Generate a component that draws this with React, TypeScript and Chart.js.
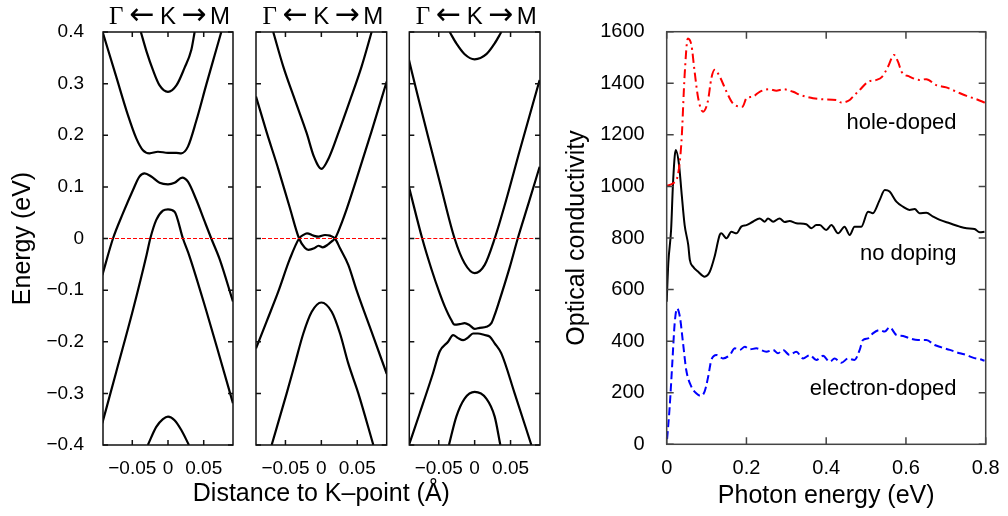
import React, { useEffect, useRef } from 'react';
import { Chart, registerables } from 'chart.js';
Chart.register(...registerables);

type Pt = [number, number];

const SANS = "'Liberation Sans', Arial, Helvetica, sans-serif";
const SERIF = "'Liberation Serif', 'Times New Roman', serif";
const ARROWS = "'DejaVu Sans', sans-serif";

// ---------- axes ----------
const kMin = -0.091;
const kMax = 0.091;
const eMin = -0.4;
const eMax = 0.4;
const kTicks = [-0.05, 0, 0.05];
const energyTicks = [-0.4, -0.3, -0.2, -0.1, 0, 0.1, 0.2, 0.3, 0.4];
const photonTicks = [0, 0.2, 0.4, 0.6, 0.8];
const sigmaTicks = [0, 200, 400, 600, 800, 1000, 1200, 1400, 1600];
const pathLabels = ['Γ', '←', 'K', '→', 'M'];
const kAxisTitle = 'Distance to K\u2013point (\u00C5)';

// ---------- panel 1 bands (x: Å^-1, y: eV) ----------
const p1BandA: Pt[] = [[-0.038, 0.4], [-0.030, 0.362], [-0.021, 0.326], [-0.012, 0.297], [0, 0.284], [0.012, 0.297], [0.023, 0.330], [0.0326, 0.365], [0.0373, 0.4]];
const p1BandB: Pt[] = [[-0.0915, 0.4], [-0.0724, 0.313], [-0.0561, 0.239], [-0.0444, 0.194], [-0.0351, 0.171], [-0.0258, 0.165], [-0.0141, 0.168], [0, 0.166], [0.0116, 0.166], [0.0186, 0.165], [0.0279, 0.178], [0.0396, 0.228], [0.0536, 0.298], [0.0653, 0.355], [0.0746, 0.4]];
const p1BandC: Pt[] = [[-0.092, -0.071], [-0.077, 0.0], [-0.063, 0.049], [-0.049, 0.094], [-0.040, 0.120], [-0.0328, 0.126], [-0.0234, 0.120], [-0.0118, 0.108], [0, 0.105], [0.0092, 0.108], [0.020, 0.118], [0.0279, 0.110], [0.0396, 0.075], [0.0513, 0.033], [0.0606, 0.0], [0.0723, -0.040], [0.0909, -0.122]];
const p1BandD: Pt[] = [[-0.092, -0.358], [-0.0724, -0.258], [-0.049, -0.138], [-0.030, -0.032], [-0.0248, 0.0], [-0.0164, 0.036], [-0.0071, 0.054], [0, 0.0566], [0.0092, 0.052], [0.0209, 0.0], [0.030, -0.034], [0.0536, -0.140], [0.0723, -0.229], [0.0909, -0.319]];
const p1BandE: Pt[] = [[-0.0282, -0.4], [-0.0164, -0.365], [-0.0071, -0.350], [0, -0.345], [0.0092, -0.352], [0.0186, -0.371], [0.0293, -0.4]];

// ---------- panel 2 bands ----------
const p2BandA: Pt[] = [[-0.067, 0.4], [-0.053, 0.333], [-0.0367, 0.268], [-0.0204, 0.204], [-0.0102, 0.158], [0, 0.135], [0.011, 0.158], [0.0236, 0.204], [0.040, 0.268], [0.056, 0.333], [0.070, 0.4]];
const p2BandV: Pt[] = [[-0.091, 0.275], [-0.076, 0.205], [-0.060, 0.135], [-0.044, 0.060], [-0.031, 0.0], [-0.023, -0.018], [-0.018, -0.022], [-0.010, -0.019], [-0.004, -0.014], [0.002, -0.017], [0.009, -0.012], [0.014, -0.006], [0.019, 0.0], [0.026, 0.022], [0.035, 0.056], [0.050, 0.120], [0.070, 0.208], [0.091, 0.304]];
const p2BandL: Pt[] = [[-0.091, -0.213], [-0.076, -0.160], [-0.060, -0.103], [-0.044, -0.040], [-0.031, 0.0], [-0.025, 0.007], [-0.020, 0.010], [-0.011, 0.0055], [-0.004, 0.0035], [0.005, 0.0068], [0.012, 0.0055], [0.019, 0.0], [0.026, -0.019], [0.0375, -0.051], [0.049, -0.100], [0.070, -0.181], [0.091, -0.262]];
const p2BandD: Pt[] = [[-0.0692, -0.4], [-0.0483, -0.300], [-0.0367, -0.242], [-0.0251, -0.184], [-0.0134, -0.142], [0, -0.124], [0.0144, -0.142], [0.026, -0.184], [0.0375, -0.242], [0.0515, -0.300], [0.0724, -0.4]];

// ---------- panel 3 bands ----------
const p3BandA: Pt[] = [[-0.0348, 0.4], [-0.0255, 0.378], [-0.0139, 0.357], [0, 0.347], [0.0163, 0.357], [0.0279, 0.378], [0.0372, 0.4]];
const p3BandB: Pt[] = [[-0.0915, 0.346], [-0.079, 0.275], [-0.065, 0.198], [-0.0487, 0.110], [-0.0279, 0.0], [-0.014, -0.048], [0, -0.067], [0.014, -0.051], [0.0279, 0.0], [0.044, 0.075], [0.0627, 0.170], [0.0905, 0.307]];
const p3BandC: Pt[] = [[-0.0915, 0.100], [-0.073, 0.0], [-0.060, -0.060], [-0.049, -0.105], [-0.0418, -0.131], [-0.0325, -0.158], [-0.0279, -0.167], [-0.0209, -0.166], [-0.0139, -0.164], [-0.007, -0.168], [0, -0.175], [0.007, -0.173], [0.0163, -0.171], [0.0233, -0.164], [0.0279, -0.148], [0.0325, -0.129], [0.049, -0.055], [0.060, 0.0], [0.075, 0.068], [0.0905, 0.139]];
const p3BandD: Pt[] = [[-0.0915, -0.4], [-0.0766, -0.339], [-0.058, -0.261], [-0.0487, -0.219], [-0.037, -0.200], [-0.030, -0.187], [-0.023, -0.193], [-0.016, -0.197], [-0.0093, -0.192], [-0.0023, -0.184], [0.0046, -0.184], [0.014, -0.187], [0.021, -0.190], [0.0279, -0.203], [0.037, -0.222], [0.0557, -0.300], [0.079, -0.4]];
const p3BandE: Pt[] = [[-0.0358, -0.4], [-0.0255, -0.345], [-0.014, -0.310], [0, -0.297], [0.0163, -0.310], [0.0279, -0.345], [0.0358, -0.4]];

const fermiLine: Pt[] = [[kMin, 0], [kMax, 0]];

// ---------- optical conductivity (x: eV) ----------
const holeDoped: Pt[] = [[0, 1002], [0.016, 1012], [0.028, 1044], [0.037, 1173], [0.045, 1432], [0.053, 1574], [0.062, 1548], [0.070, 1445], [0.079, 1342], [0.091, 1290], [0.103, 1329], [0.112, 1419], [0.120, 1452], [0.133, 1426], [0.150, 1367], [0.166, 1322], [0.190, 1309], [0.200, 1342], [0.216, 1348], [0.233, 1367], [0.258, 1377], [0.275, 1371], [0.292, 1377], [0.317, 1367], [0.334, 1355], [0.350, 1348], [0.367, 1342], [0.392, 1338], [0.426, 1335], [0.438, 1325], [0.459, 1335], [0.467, 1348], [0.484, 1374], [0.505, 1406], [0.526, 1413], [0.540, 1425], [0.555, 1464], [0.570, 1510], [0.580, 1484], [0.589, 1445], [0.609, 1426], [0.634, 1413], [0.651, 1416], [0.676, 1393], [0.701, 1384], [0.727, 1367], [0.752, 1351], [0.777, 1338], [0.798, 1325]];
const noDoping: Pt[] = [[0, 553], [0.004, 702], [0.011, 831], [0.016, 1018], [0.0226, 1141], [0.031, 1083], [0.037, 980], [0.045, 850], [0.054, 773], [0.058, 715], [0.066, 689], [0.079, 669], [0.095, 650], [0.108, 669], [0.120, 727], [0.133, 812], [0.137, 818], [0.150, 799], [0.162, 824], [0.175, 818], [0.187, 844], [0.200, 850], [0.216, 863], [0.233, 876], [0.246, 863], [0.254, 876], [0.267, 863], [0.283, 876], [0.296, 862], [0.308, 866], [0.325, 857], [0.350, 853], [0.363, 838], [0.375, 850], [0.384, 850], [0.400, 831], [0.413, 850], [0.430, 818], [0.446, 844], [0.459, 812], [0.471, 844], [0.488, 844], [0.505, 902], [0.517, 896], [0.534, 947], [0.547, 986], [0.559, 980], [0.576, 941], [0.593, 921], [0.609, 909], [0.622, 912], [0.634, 896], [0.651, 898], [0.668, 883], [0.685, 870], [0.710, 857], [0.735, 844], [0.752, 838], [0.772, 835], [0.785, 822], [0.797, 824]];
const electronDoped: Pt[] = [[0.001, 20], [0.0075, 146], [0.014, 314], [0.020, 469], [0.026, 527], [0.033, 495], [0.041, 392], [0.049, 288], [0.062, 223], [0.074, 198], [0.085, 188], [0.095, 204], [0.104, 262], [0.112, 327], [0.125, 346], [0.141, 333], [0.158, 346], [0.171, 372], [0.183, 366], [0.196, 378], [0.208, 368], [0.225, 372], [0.250, 359], [0.267, 366], [0.279, 353], [0.292, 366], [0.308, 346], [0.325, 359], [0.342, 333], [0.359, 346], [0.375, 327], [0.392, 343], [0.409, 320], [0.421, 333], [0.438, 316], [0.455, 333], [0.471, 327], [0.484, 366], [0.492, 404], [0.505, 411], [0.517, 430], [0.534, 443], [0.547, 437], [0.559, 454], [0.576, 424], [0.593, 420], [0.609, 411], [0.630, 404], [0.651, 404], [0.672, 385], [0.689, 376], [0.710, 366], [0.735, 353], [0.752, 346], [0.768, 336], [0.785, 330], [0.797, 324]];

const seriesLabelText = ['hole-doped', 'no doping', 'electron-doped'];
const seriesLabelE = [0.727, 0.727, 0.727];
const seriesLabelS = [1221, 715, 191];

// ---------- helpers ----------
const toXY = (pts: Pt[]) => pts.map(([x, y]) => ({ x, y }));
const minus = (v: number, digits: number) => {
  const r = Math.round(v * 1000) / 1000;
  if (Math.abs(r) < 1e-9) return '0';
  return (r < 0 ? '\u2212' : '') + Math.abs(r).toFixed(digits);
};

const framePlugin = {
  id: 'frame',
  afterDatasetsDraw(chart: any, _a: any, opts: any) {
    const { ctx, chartArea } = chart;
    const { left, right, top, bottom } = chartArea;
    const xs = chart.scales.x;
    const ys = chart.scales.y;
    const L = opts.tick;
    ctx.save();
    ctx.strokeStyle = opts.color;
    ctx.lineWidth = opts.width;
    ctx.beginPath();
    xs.ticks.forEach((t: any) => {
      const p = xs.getPixelForValue(t.value);
      ctx.moveTo(p, bottom); ctx.lineTo(p, bottom - L);
      ctx.moveTo(p, top); ctx.lineTo(p, top + L);
    });
    ys.ticks.forEach((t: any) => {
      const p = ys.getPixelForValue(t.value);
      ctx.moveTo(left, p); ctx.lineTo(left + L, p);
      ctx.moveTo(right, p); ctx.lineTo(right - L, p);
    });
    ctx.stroke();
    ctx.strokeRect(left, top, right - left, bottom - top);
    ctx.restore();
  },
};

// Γ ← K → M above each band panel, plus the shared k-axis title (opts.xTitle)
const pathPlugin = {
  id: 'kpath',
  afterDraw(chart: any, _a: any, opts: any) {
    const { ctx, chartArea } = chart;
    const cx = (chartArea.left + chartArea.right) / 2;
    const offsets = [-51.7, -26, 0, 25.8, 52];
    ctx.save();
    ctx.fillStyle = '#000';
    ctx.textAlign = 'center';
    ctx.textBaseline = 'alphabetic';
    pathLabels.forEach((s, i) => {
      if (i === 0) ctx.font = `25px ${SERIF}`;
      else if (i === 1 || i === 3) ctx.font = `30px ${ARROWS}`;
      else ctx.font = `24px ${SANS}`;
      ctx.fillText(s, cx + offsets[i], chartArea.top - 8);
    });
    if (opts && opts.xTitle) {
      ctx.font = `25px ${SANS}`;
      ctx.textBaseline = 'middle';
      ctx.fillText(opts.xTitle, cx, 494);
    }
    ctx.restore();
  },
};

const labelPlugin = {
  id: 'seriesLabels',
  afterDraw(chart: any) {
    const { ctx } = chart;
    const xs = chart.scales.x;
    const ys = chart.scales.y;
    ctx.save();
    ctx.fillStyle = '#000';
    ctx.font = `22px ${SANS}`;
    ctx.textAlign = 'right';
    ctx.textBaseline = 'alphabetic';
    seriesLabelText.forEach((s, i) => {
      ctx.fillText(s, xs.getPixelForValue(seriesLabelE[i]), ys.getPixelForValue(seriesLabelS[i]));
    });
    ctx.restore();
  },
};

const bandDataset = (pts: Pt[]) => ({
  data: toXY(pts),
  showLine: true,
  borderColor: '#000',
  borderWidth: 2.2,
  pointRadius: 0,
  cubicInterpolationMode: 'monotone' as const,
  fill: false,
});

function bandConfig(bands: Pt[][], padLeft: number, padRight: number, yWidth: number, showY: boolean, xTitle: string) {
  return {
    type: 'scatter' as const,
    data: {
      datasets: [
        {
          data: toXY(fermiLine),
          showLine: true,
          borderColor: '#ff0000',
          borderWidth: 1,
          borderDash: [4, 2],
          pointRadius: 0,
        },
        ...bands.map(bandDataset),
      ],
    },
    options: {
      responsive: false,
      animation: false,
      devicePixelRatio: 1,
      events: [],
      layout: { padding: { left: padLeft, right: padRight, top: 32, bottom: 0 } },
      plugins: {
        legend: { display: false },
        tooltip: { enabled: false },
        frame: { color: '#111', width: 1.5, tick: 5 },
        kpath: { xTitle },
      },
      scales: {
        x: {
          type: 'linear',
          min: kMin,
          max: kMax,
          afterBuildTicks: (s: any) => { s.ticks = kTicks.map((v) => ({ value: v })); },
          afterFit: (s: any) => { s.height = 71; },
          grid: { display: false },
          border: { display: false },
          ticks: {
            padding: 4,
            color: '#000',
            font: { family: SANS, size: 19 },
            maxRotation: 0,
            autoSkip: false,
            callback: (v: number) => minus(v, 2),
          },
        },
        y: {
          type: 'linear',
          min: eMin,
          max: eMax,
          afterBuildTicks: (s: any) => { s.ticks = energyTicks.map((v) => ({ value: v })); },
          afterFit: (s: any) => { s.width = yWidth; },
          grid: { display: false },
          border: { display: false },
          ticks: {
            display: showY,
            padding: 11,
            color: '#000',
            font: { family: SANS, size: 19 },
            callback: (v: number) => minus(v, 1),
          },
          title: {
            display: showY,
            text: 'Energy (eV)',
            color: '#000',
            font: { family: SANS, size: 25 },
            padding: { top: 8, bottom: 0 },
          },
        },
      },
    },
    plugins: [framePlugin, pathPlugin],
  };
}

function conductivityConfig() {
  const line = (pts: Pt[], color: string, dash: number[]) => ({
    data: toXY(pts),
    showLine: true,
    borderColor: color,
    borderWidth: 2,
    borderDash: dash,
    pointRadius: 0,
    cubicInterpolationMode: 'monotone' as const,
    fill: false,
  });
  return {
    type: 'scatter' as const,
    data: {
      datasets: [
        line(holeDoped, '#ff0000', [9, 4, 2, 4]),
        line(noDoping, '#000000', []),
        line(electronDoped, '#0000ff', [8, 4]),
      ],
    },
    options: {
      responsive: false,
      animation: false,
      devicePixelRatio: 1,
      events: [],
      layout: { padding: { left: 560, right: 22.3, top: 31.7, bottom: 0 } },
      plugins: {
        legend: { display: false },
        tooltip: { enabled: false },
        frame: { color: '#444', width: 1.5, tick: 7 },
      },
      scales: {
        x: {
          type: 'linear',
          min: 0,
          max: 0.8,
          afterBuildTicks: (s: any) => { s.ticks = photonTicks.map((v) => ({ value: v })); },
          afterFit: (s: any) => { s.height = 71.7; },
          grid: { display: false },
          border: { display: false },
          ticks: {
            padding: 4,
            color: '#000',
            font: { family: SANS, size: 20 },
            maxRotation: 0,
            autoSkip: false,
            callback: (v: number) => minus(v, 1),
          },
          title: {
            display: true,
            text: 'Photon energy (eV)',
            color: '#000',
            font: { family: SANS, size: 25 },
            padding: { top: 0, bottom: 5 },
          },
        },
        y: {
          type: 'linear',
          min: 0,
          max: 1600,
          afterBuildTicks: (s: any) => { s.ticks = sigmaTicks.map((v) => ({ value: v })); },
          afterFit: (s: any) => { s.width = 106.7; },
          grid: { display: false },
          border: { display: false },
          ticks: {
            padding: 14,
            color: '#000',
            font: { family: SANS, size: 20 },
            callback: (v: number) => String(Math.round(v)),
          },
          title: {
            display: true,
            text: 'Optical conductivity',
            color: '#000',
            font: { family: SANS, size: 25 },
            padding: { top: 2, bottom: 0 },
          },
        },
      },
    },
    plugins: [framePlugin, labelPlugin],
  };
}

export default function App() {
  const r1 = useRef<HTMLCanvasElement>(null);
  const r2 = useRef<HTMLCanvasElement>(null);
  const r3 = useRef<HTMLCanvasElement>(null);
  const r4 = useRef<HTMLCanvasElement>(null);

  useEffect(() => {
    const charts: Chart[] = [];
    charts.push(new Chart(r1.current!, bandConfig([p1BandA, p1BandB, p1BandC, p1BandD, p1BandE], 0, 775, 103, true, '') as any));
    charts.push(new Chart(r2.current!, bandConfig([p2BandA, p2BandV, p2BandL, p2BandD], 256, 621.3, 0, false, kAxisTitle) as any));
    charts.push(new Chart(r3.current!, bandConfig([p3BandA, p3BandB, p3BandC, p3BandD, p3BandE], 409.3, 468, 0, false, '') as any));
    charts.push(new Chart(r4.current!, conductivityConfig() as any));
    return () => charts.forEach((c) => c.destroy());
  }, []);

  const cs: React.CSSProperties = { position: 'absolute', left: 0, top: 0 };
  return (
    <div style={{ position: 'absolute', left: 0, top: 0, width: 1008, height: 516, background: '#fff' }}>
      <canvas ref={r1} width={1008} height={516} style={cs} />
      <canvas ref={r2} width={1008} height={516} style={cs} />
      <canvas ref={r3} width={1008} height={516} style={cs} />
      <canvas ref={r4} width={1008} height={516} style={cs} />
    </div>
  );
}
